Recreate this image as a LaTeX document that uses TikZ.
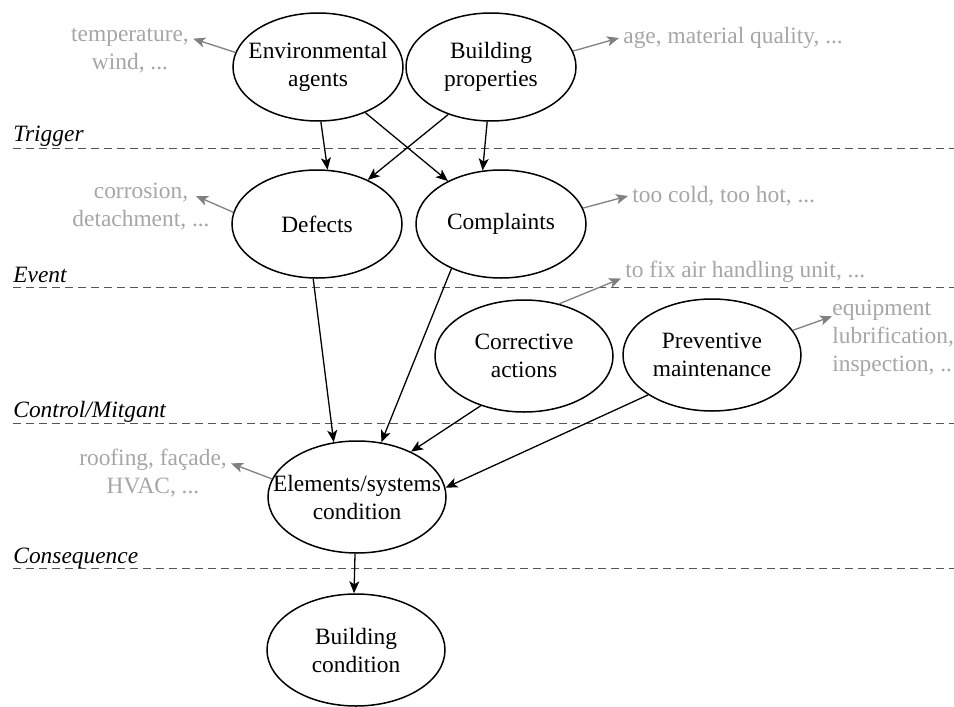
\documentclass[tikz,border=0pt]{standalone}
\usepackage{fontspec}
\setmainfont{Liberation Serif}
\usepackage{tikz}
\usetikzlibrary{arrows.meta,shapes.geometric}
\definecolor{anotgris}{RGB}{166,166,166}
\definecolor{flechagris}{RGB}{128,128,128}
\definecolor{capagris}{RGB}{85,85,85}
\newcommand{\diagfont}{\fontsize{11.7}{14}\selectfont}

\begin{document}
\begin{tikzpicture}[
  x=0.5pt, y=-0.5pt,
  font=\diagfont,
  fact/.style={ellipse, draw, line width=0.75pt, inner sep=0pt, minimum width=85pt, minimum height=54pt},
  factbig/.style={fact, minimum width=89pt, minimum height=56pt},
  etq/.style={align=center, inner sep=0pt},
  anot/.style={align=center, text=anotgris, inner sep=2pt},
  flecha/.style={-{Stealth[length=6pt,width=5pt,inset=1.5pt]}, line width=0.65pt},
  anotflecha/.style={flecha, draw=flechagris},
  capa/.style={draw=capagris, dash pattern=on 4pt off 2.5pt, line width=0.5pt},
  capaetq/.style={anchor=base west, inner sep=0pt, font=\diagfont\itshape}
]
\useasboundingbox (0,0) rectangle (954,707);
% LAYERS
\draw[capa] (13,148) -- (954,148);
\draw[capa] (13,287) -- (954,287);
\draw[capa] (13,423) -- (954,423);
\draw[capa] (13,568) -- (954,568);
\node[capaetq] (trig) at (13,141) {Trigger};
\node[capaetq] (evt) at (13,282) {Event};
\node[capaetq] (ctrl) at (13,417) {Control/Mitgant};
\node[capaetq] (cons) at (13,563) {Consequence};
% TRIGGER
\node[fact] (env) at (318,67) {};
\node[etq] (envtxt) at (env) {Environmental\\agents};
\node[fact] (bp) at (491,67) {};
\node[etq] (bptxt) at (bp) {Building\\properties};
\node[anot] (tmpnote) at (130,51) {temperature,\\wind, ...};
\node[anot, anchor=west] (agenote) at (619,38) {age, material quality, ...};
\draw[anotflecha] (env.170) -- (tmpnote.11);
\draw[anotflecha] (bp.11) -- (agenote.west);
% EVENT
\node[fact] (def) at (317,224) {};
\node[etq] (deftxt) at (def) {Defects};
\node[fact] (cmp) at (501,224) {};
\node[etq] (cmptxt) at (cmp) {Complaints};
\node[anot] (cornote) at (141,207) {corrosion,\\detachment, ...};
\coordinate (cortip) at (196,196);
\node[anot, anchor=west] (coldnote) at (628,196) {too cold, too hot, ...};
\draw[anotflecha] (def.172) -- (cortip);
\draw[anotflecha] (cmp.11) -- (coldnote.west);
\draw[flecha] (env.-87) -- (def.79);
\draw[flecha] (env.-44) -- (cmp.141);
\draw[flecha] (bp.-132) -- (def.41);
\draw[flecha] (bp.-94) -- (cmp.109);
% CONTROL/MITIGANT
\node[factbig] (cor) at (524,356) {};
\node[etq] (cortxt) at (cor) {Corrective\\actions};
\node[factbig] (pm) at (712,355) {};
\node[etq] (pmtxt) at (pm) {Preventive\\maintenance};
\node[anot, anchor=west] (fixnote) at (621,272) {to fix air handling unit, ...};
\node[anot, inner xsep=0pt, align=left, anchor=north west] (eqnote) at (832,296)
  {equipment\\lubrification,\\inspection, ..};
\draw[anotflecha] (cor.56) -- (fixnote.183);
\draw[anotflecha] (pm.17) -- (eqnote.160);
% CONSEQUENCE
\node[factbig] (el) at (357,497) {};
\node[etq] (eltxt) at (el) {Elements/systems\\condition};
\node[factbig] (bc) at (356,650) {};
\node[etq] (bctxt) at (bc) {Building\\condition};
\node[anot] (roofnote) at (153,473) {roofing, façade,\\HVAC, ...};
\draw[anotflecha] (el.168) -- (roofnote.7);
\draw[flecha] (def.-94) -- (el.113);
\draw[flecha] (cmp.-138) -- (el.66);
\draw[flecha] (cor.-131) -- (el.40);
\draw[flecha] (pm.-148) -- (el.6);
\draw[flecha] (el.-92) -- (bc.92);
\end{tikzpicture}
\end{document}
